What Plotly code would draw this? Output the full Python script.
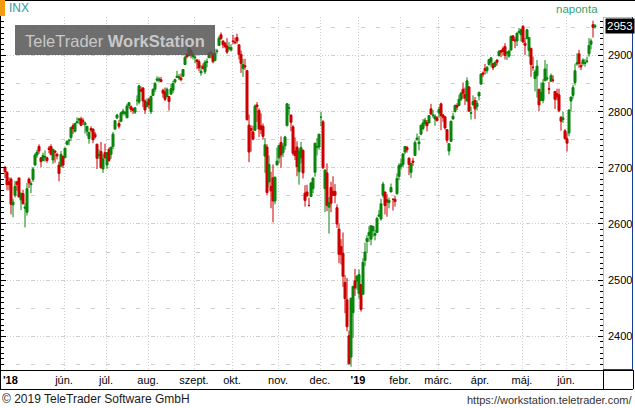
import pandas as pd
import plotly.graph_objects as go

# ---------------- data (S&P 500 / INX, daily) ----------------
holidays = ["2018-05-28", "2018-07-04", "2018-09-03", "2018-11-22", "2018-12-05",
            "2018-12-25", "2019-01-01", "2019-01-21", "2019-02-18", "2019-04-19",
            "2019-05-27"]
dates = [d for d in pd.bdate_range("2018-04-19", "2019-06-21")
         if d.strftime("%Y-%m-%d") not in holidays]

open_ = [
    # Apr 2018
    2701, 2692, 2675, 2680, 2634, 2651, 2675, 2682,
    # May
    2643, 2654, 2628, 2621, 2680, 2670, 2679, 2705, 2723, 2738, 2718, 2713, 2719, 2718, 2735, 2738, 2714, 2730, 2724, 2705, 2703, 2720,
    # Jun
    2718, 2742, 2748, 2754, 2775, 2765, 2780, 2785, 2787, 2784, 2777, 2765, 2752, 2770, 2769, 2760, 2742, 2722, 2729, 2698, 2727,
    # Jul
    2705, 2733, 2724, 2738, 2769, 2789, 2779, 2783, 2797, 2797, 2789, 2811, 2809, 2805, 2799, 2820, 2817, 2839, 2842, 2819, 2809,
    # Aug
    2822, 2800, 2829, 2840, 2856, 2856, 2857, 2838, 2835, 2827, 2827, 2831, 2838, 2853, 2861, 2860, 2860, 2863, 2884, 2902, 2900, 2909, 2898,
    # Sep
    2896, 2892, 2889, 2869, 2881, 2871, 2888, 2896, 2906, 2903, 2891, 2907, 2918, 2937, 2926, 2922, 2917, 2912, 2910,
    # Oct
    2926, 2924, 2932, 2919, 2902, 2877, 2882, 2873, 2776, 2770, 2764, 2767, 2812, 2802, 2775, 2774, 2721, 2737, 2675, 2667, 2682, 2641, 2705,
    # Nov
    2718, 2745, 2727, 2739, 2775, 2806, 2794, 2773, 2730, 2737, 2693, 2718, 2731, 2655, 2657, 2633, 2649, 2663, 2692, 2736, 2737,
    # Dec
    2790, 2782, 2663, 2691, 2630, 2665, 2658, 2658, 2629, 2591, 2560, 2548, 2496, 2465, 2401, 2363, 2442, 2499, 2498,
    # Jan 2019
    2476, 2492, 2475, 2535, 2569, 2580, 2573, 2588, 2580, 2585, 2614, 2609, 2651, 2657, 2643, 2638, 2657, 2644, 2644, 2654, 2685,
    # Feb
    2702, 2706, 2728, 2736, 2717, 2692, 2712, 2722, 2750, 2743, 2760, 2770, 2779, 2781, 2780, 2805, 2793, 2787, 2789,
    # Mar
    2798, 2814, 2794, 2791, 2768, 2730, 2747, 2787, 2800, 2811, 2811, 2822, 2840, 2831, 2819, 2844, 2797, 2812, 2820, 2809, 2828,
    # Apr
    2849, 2869, 2877, 2873, 2884, 2888, 2886, 2881, 2892, 2900, 2909, 2912, 2916, 2905, 2899, 2910, 2935, 2928, 2926, 2941, 2937,
    # May
    2952, 2922, 2930, 2909, 2913, 2879, 2859, 2864, 2840, 2820, 2820, 2855, 2858, 2841, 2854, 2856, 2836, 2832, 2830, 2790, 2786, 2766,
    # Jun
    2752, 2762, 2819, 2829, 2852, 2885, 2903, 2882, 2886, 2886, 2889, 2903, 2920, 2955, 2951,
]
high = [
    2703, 2694, 2683, 2683, 2645, 2677, 2677, 2682,
    2655, 2661, 2637, 2673, 2683, 2676, 2701, 2726, 2732, 2742, 2719, 2727, 2731, 2720, 2739, 2742, 2734, 2731, 2727, 2711, 2730, 2722,
    2736, 2749, 2752, 2772, 2779, 2779, 2790, 2789, 2791, 2789, 2782, 2774, 2765, 2774, 2770, 2764, 2743, 2733, 2746, 2724, 2743,
    2727, 2736, 2737, 2764, 2785, 2796, 2785, 2800, 2805, 2801, 2814, 2817, 2811, 2807, 2808, 2829, 2848, 2845, 2844, 2822, 2824,
    2825, 2829, 2841, 2853, 2863, 2862, 2862, 2841, 2843, 2843, 2827, 2850, 2855, 2859, 2873, 2867, 2868, 2876, 2899, 2904, 2916, 2912, 2906,
    2901, 2894, 2893, 2883, 2886, 2892, 2895, 2906, 2908, 2904, 2912, 2912, 2935, 2941, 2926, 2924, 2931, 2924, 2920,
    2937, 2932, 2939, 2920, 2909, 2894, 2894, 2874, 2795, 2776, 2775, 2813, 2817, 2806, 2797, 2779, 2753, 2742, 2722, 2693, 2706, 2685, 2736,
    2741, 2756, 2744, 2757, 2815, 2814, 2795, 2776, 2754, 2747, 2735, 2746, 2733, 2669, 2670, 2647, 2675, 2682, 2744, 2753, 2760,
    2800, 2785, 2697, 2708, 2648, 2675, 2685, 2671, 2635, 2601, 2573, 2585, 2509, 2504, 2410, 2467, 2489, 2520, 2509,
    2519, 2493, 2539, 2567, 2580, 2596, 2597, 2596, 2589, 2613, 2625, 2645, 2675, 2657, 2653, 2647, 2672, 2644, 2650, 2690, 2708,
    2716, 2725, 2738, 2739, 2719, 2709, 2718, 2749, 2761, 2757, 2776, 2787, 2789, 2785, 2794, 2814, 2803, 2795, 2792,
    2809, 2816, 2796, 2791, 2769, 2744, 2784, 2798, 2813, 2815, 2830, 2835, 2852, 2843, 2861, 2846, 2809, 2829, 2826, 2820, 2836,
    2868, 2872, 2885, 2881, 2893, 2895, 2886, 2889, 2893, 2910, 2909, 2916, 2922, 2908, 2910, 2936, 2936, 2933, 2940, 2949, 2948,
    2954, 2931, 2947, 2933, 2913, 2898, 2875, 2892, 2840, 2852, 2858, 2892, 2885, 2853, 2868, 2865, 2836, 2841, 2841, 2792, 2800, 2769,
    2763, 2804, 2827, 2848, 2885, 2904, 2910, 2888, 2895, 2894, 2898, 2931, 2930, 2962, 2956,
]
low = [
    2682, 2660, 2660, 2617, 2612, 2647, 2659, 2648,
    2625, 2635, 2594, 2615, 2664, 2655, 2675, 2704, 2718, 2725, 2701, 2712, 2711, 2709, 2726, 2722, 2707, 2709, 2715, 2676, 2703, 2700,
    2718, 2740, 2740, 2748, 2760, 2763, 2780, 2778, 2774, 2776, 2761, 2757, 2743, 2763, 2744, 2752, 2698, 2716, 2699, 2691, 2716,
    2698, 2711, 2716, 2733, 2768, 2787, 2770, 2781, 2793, 2793, 2789, 2806, 2799, 2796, 2796, 2811, 2813, 2835, 2808, 2796, 2808,
    2805, 2796, 2828, 2835, 2853, 2852, 2852, 2825, 2819, 2826, 2802, 2831, 2833, 2850, 2861, 2856, 2854, 2862, 2884, 2895, 2898, 2895, 2893,
    2886, 2876, 2872, 2864, 2875, 2867, 2879, 2896, 2895, 2886, 2890, 2903, 2918, 2928, 2913, 2913, 2903, 2909, 2907,
    2920, 2920, 2921, 2893, 2869, 2862, 2874, 2784, 2710, 2729, 2749, 2766, 2782, 2755, 2760, 2750, 2691, 2651, 2667, 2628, 2603, 2635, 2705,
    2708, 2700, 2719, 2732, 2775, 2794, 2765, 2722, 2714, 2685, 2670, 2708, 2681, 2631, 2649, 2631, 2649, 2655, 2684, 2722, 2732,
    2774, 2698, 2621, 2623, 2583, 2621, 2650, 2637, 2593, 2530, 2528, 2488, 2441, 2409, 2351, 2346, 2397, 2472, 2483,
    2467, 2444, 2474, 2525, 2548, 2568, 2562, 2577, 2571, 2585, 2612, 2606, 2647, 2617, 2613, 2628, 2657, 2624, 2631, 2652, 2678,
    2697, 2701, 2725, 2727, 2687, 2682, 2703, 2722, 2749, 2731, 2758, 2767, 2774, 2765, 2780, 2794, 2789, 2775, 2783,
    2789, 2767, 2782, 2768, 2744, 2722, 2747, 2786, 2799, 2803, 2810, 2819, 2823, 2812, 2818, 2800, 2786, 2812, 2787, 2802, 2820,
    2849, 2862, 2866, 2868, 2882, 2880, 2874, 2879, 2882, 2898, 2897, 2900, 2893, 2892, 2896, 2908, 2926, 2913, 2917, 2939, 2925,
    2923, 2901, 2930, 2898, 2862, 2873, 2836, 2825, 2801, 2820, 2815, 2855, 2855, 2831, 2854, 2852, 2805, 2820, 2799, 2766, 2780, 2750,
    2729, 2756, 2801, 2823, 2847, 2882, 2878, 2874, 2882, 2880, 2887, 2898, 2911, 2932, 2948,
]
close = [
    2693, 2670, 2670, 2635, 2639, 2667, 2670, 2648,
    2655, 2636, 2630, 2663, 2673, 2672, 2698, 2723, 2728, 2730, 2711, 2722, 2720, 2713, 2733, 2724, 2733, 2728, 2721, 2690, 2724, 2705,
    2735, 2747, 2749, 2772, 2770, 2779, 2782, 2787, 2776, 2782, 2780, 2774, 2763, 2767, 2750, 2755, 2717, 2723, 2700, 2716, 2718,
    2727, 2713, 2737, 2760, 2784, 2794, 2774, 2798, 2801, 2798, 2810, 2816, 2804, 2802, 2807, 2820, 2846, 2837, 2819, 2803, 2816,
    2813, 2827, 2840, 2850, 2858, 2858, 2854, 2833, 2822, 2840, 2818, 2841, 2850, 2857, 2863, 2862, 2857, 2875, 2897, 2898, 2914, 2901, 2902,
    2897, 2889, 2878, 2872, 2877, 2888, 2889, 2904, 2905, 2889, 2904, 2908, 2931, 2930, 2919, 2916, 2906, 2914, 2914,
    2925, 2923, 2926, 2902, 2886, 2884, 2880, 2786, 2728, 2767, 2751, 2810, 2809, 2769, 2768, 2756, 2741, 2656, 2706, 2659, 2641, 2683, 2712,
    2740, 2723, 2738, 2755, 2814, 2807, 2781, 2726, 2722, 2702, 2730, 2736, 2691, 2642, 2650, 2633, 2673, 2682, 2744, 2738, 2760,
    2790, 2700, 2696, 2633, 2638, 2637, 2651, 2651, 2600, 2546, 2546, 2507, 2467, 2417, 2351, 2468, 2489, 2486, 2507,
    2510, 2448, 2532, 2550, 2574, 2585, 2597, 2596, 2583, 2610, 2616, 2636, 2671, 2633, 2639, 2642, 2665, 2644, 2640, 2681, 2704,
    2707, 2725, 2738, 2732, 2706, 2708, 2710, 2745, 2753, 2746, 2776, 2780, 2785, 2775, 2793, 2796, 2794, 2792, 2784,
    2804, 2793, 2790, 2771, 2749, 2743, 2783, 2792, 2811, 2808, 2822, 2833, 2833, 2824, 2855, 2801, 2798, 2818, 2805, 2815, 2834,
    2867, 2867, 2873, 2879, 2893, 2896, 2878, 2888, 2888, 2907, 2906, 2907, 2900, 2905, 2908, 2934, 2927, 2926, 2940, 2943, 2946,
    2924, 2918, 2946, 2932, 2884, 2879, 2871, 2881, 2812, 2834, 2851, 2876, 2860, 2840, 2864, 2856, 2822, 2826, 2802, 2783, 2789, 2752,
    2744, 2803, 2826, 2843, 2873, 2887, 2886, 2880, 2892, 2887, 2890, 2918, 2926, 2950, 2953,
]

month_labels = ["jún.", "júl.", "aug.", "szept.", "okt.", "nov.", "dec.", "<b>'19</b>",
                "febr.", "márc.", "ápr.", "máj.", "jún."]
y_ticks = [2400, 2500, 2600, 2700, 2800, 2900]
symbol = "INX"
period_label = "naponta"

# ---------------- derived positions ----------------
n = len(dates)
idx = list(range(n))
boundaries = [i for i in range(1, n) if dates[i].month != dates[i - 1].month][1:]
month_tickvals = [b - 0.5 for b in boundaries]

# pixel geometry helpers (plot area 1..603 x 17..370 in a 635x408 page)
PL, PR, PT, PB = 1, 603, 17, 370
def px(x):
    return (x - PL) / (PR - PL)
def py(y):
    return (PB - y) / (PB - PT)

GREEN = "#08850a"
RED = "#cc0000"

fig = go.Figure()
fig.add_trace(go.Candlestick(
    x=idx, open=open_, high=high, low=low, close=close,
    increasing=dict(line=dict(color=GREEN, width=1), fillcolor=GREEN),
    decreasing=dict(line=dict(color=RED, width=1), fillcolor=RED),
    whiskerwidth=0, hovertext=[d.strftime("%Y-%m-%d") for d in dates],
    showlegend=False,
))

FONT = "Liberation Sans, Arial, sans-serif"
GRID = "#cfcfcf"

fig.update_layout(
    width=635, height=408, autosize=False,
    margin=dict(l=PL, r=635 - PR, t=PT, b=408 - PB, pad=0),
    paper_bgcolor="white", plot_bgcolor="white",
    font=dict(family=FONT, size=11, color="black"),
    boxgap=0.0, boxgroupgap=0.0,
    showlegend=False,
    xaxis=dict(
        range=[-2, 299], rangeslider=dict(visible=False),
        tickmode="array", tickvals=month_tickvals, ticktext=month_labels,
        showgrid=True, gridcolor=GRID, griddash="1px,2px", gridwidth=1,
        ticks="", showline=False, zeroline=False,
        tickfont=dict(size=11, family=FONT, color="black"),
        ticklabelstandoff=2,
    ),
    yaxis=dict(
        range=[2340, 2968.6], side="right",
        tickmode="array", tickvals=y_ticks,
        showgrid=True, gridcolor=GRID, griddash="1px,2px", gridwidth=1,
        ticks="inside", ticklen=5, tickcolor="black", tickwidth=1,
        mirror="ticks", showline=False, zeroline=False,
        minor=dict(dtick=50, tick0=2350, showgrid=True, gridcolor=GRID,
                   griddash="4px,11px", ticks=""),
        tickfont=dict(size=11, family=FONT, color="black"),
        ticklabelstandoff=4,
    ),
    yaxis2=dict(
        overlaying="y", matches="y", side="right",
        dtick=10, tick0=2340, showticklabels=False, showgrid=False,
        ticks="inside", ticklen=3, tickcolor="black", tickwidth=1,
        mirror="ticks", showline=False, zeroline=False,
    ),
)

# invisible trace to make sure yaxis2 is rendered
fig.add_trace(go.Scatter(x=[idx[0]], y=[close[0]], yaxis="y2", mode="markers",
                         marker=dict(opacity=0), hoverinfo="skip", showlegend=False))

shapes = []
def line(x0, y0, x1, y1, color, w=1):
    shapes.append(dict(type="line", xref="paper", yref="paper",
                       x0=px(x0), y0=py(y0), x1=px(x1), y1=py(y1),
                       line=dict(color=color, width=w), layer="above"))

# outer frame
line(0, 0.5, 635, 0.5, "black")
line(0.5, 0, 0.5, 389, "black")
line(0, 370.5, 633, 370.5, "black")
line(0, 389.5, 633, 389.5, "black")
line(603.5, 370, 603.5, 389, "black")
line(633.5, 370, 633.5, 389, "black")
# y label panel
line(603.5, 17, 603.5, 370, "#f0c020")
line(603, 17.5, 633, 17.5, "#f0c020")
line(632.5, 17, 632.5, 370, "#1c3a9c")
line(603, 369.5, 633, 369.5, "#1c3a9c")
# header orange block
shapes.append(dict(type="rect", xref="paper", yref="paper",
                   x0=px(0), y0=py(16), x1=px(5), y1=py(0),
                   fillcolor="#f39a10", line=dict(width=0), layer="above"))
# watermark box
shapes.append(dict(type="rect", xref="paper", yref="paper",
                   x0=px(15), y0=py(55), x1=px(215), y1=py(25),
                   fillcolor="rgba(85,85,85,0.85)", line=dict(width=0), layer="above"))
fig.update_layout(shapes=shapes)

ann = []
ann.append(dict(text="TeleTrader <b>WorkStation</b>", xref="paper", yref="paper",
                x=px(115), y=py(40.5), xanchor="center", yanchor="middle", showarrow=False,
                font=dict(family=FONT, size=16.5, color="#c8c8c8")))
ann.append(dict(text=symbol, xref="paper", yref="paper", x=px(7), y=py(8.5),
                xanchor="left", yanchor="middle", showarrow=False,
                font=dict(family=FONT, size=12, color="#2f9aa6")))
ann.append(dict(text=period_label, xref="paper", yref="paper", x=px(600), y=py(9),
                xanchor="right", yanchor="middle", showarrow=False,
                font=dict(family=FONT, size=11.5, color="#3a9f72")))
ann.append(dict(text="<b>'18</b>", xref="paper", yref="paper", x=px(1), y=py(380),
                xanchor="left", yanchor="middle", showarrow=False,
                font=dict(family=FONT, size=11, color="black")))
ann.append(dict(text=f"{close[-1]:.0f}", xref="paper", yref="y", x=px(604.5), y=close[-1],
                xanchor="left", yanchor="middle", showarrow=False,
                bgcolor="black", borderpad=1,
                font=dict(family=FONT, size=11.5, color="white")))
ann.append(dict(text="© 2019 TeleTrader Software GmbH", xref="paper", yref="paper",
                x=px(0), y=py(398.5), xanchor="left", yanchor="middle", showarrow=False,
                font=dict(family=FONT, size=12, color="#1a1a1a")))
ann.append(dict(text="https://workstation.teletrader.com/", xref="paper", yref="paper",
                x=px(634), y=py(399.5), xanchor="right", yanchor="middle", showarrow=False,
                font=dict(family=FONT, size=11, color="#333333")))
fig.update_layout(annotations=ann)

fig.write_html("out.html", config={"displayModeBar": False},
               post_script="document.body.style.margin='0';document.body.style.padding='0';")
